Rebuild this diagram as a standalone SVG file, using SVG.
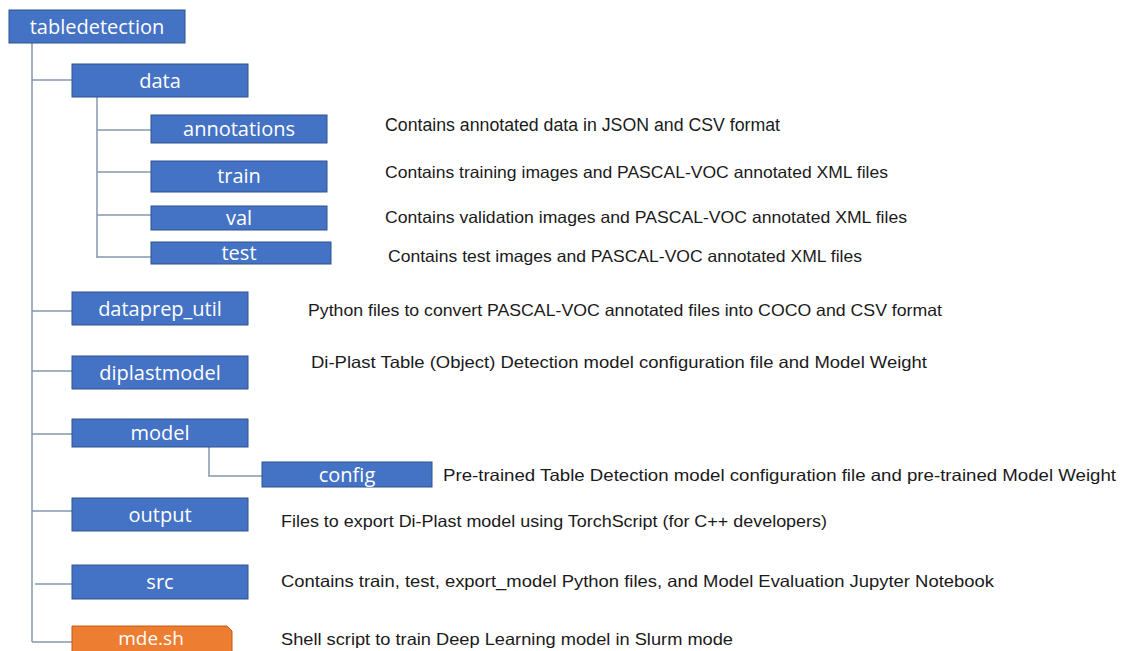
<svg xmlns="http://www.w3.org/2000/svg" width="1121" height="651" viewBox="0 0 1121 651">
<style>
.box{fill:#4472C4;stroke:#2F528F;stroke-width:1}
.orange{fill:#ED7D31;stroke:#C55A11;stroke-width:1}
.lbl{font-family:"Open Sans","Liberation Sans",sans-serif;font-size:20px;fill:#FFFFFF;text-anchor:middle}
.desc{font-family:"Liberation Sans",Arial,sans-serif;font-size:16.5px;fill:#1A1A1A}
.conn line,.conn path{stroke:#8497B0;stroke-width:1.5;fill:none}
</style>
<rect width="1121" height="651" fill="#FFFFFF"/>
<g class="conn" id="connectors">
<line x1="32" y1="43" x2="32" y2="642"/>
<line x1="32" y1="80" x2="72" y2="80"/>
<line x1="97" y1="97" x2="97" y2="258"/>
<line x1="97" y1="130" x2="151" y2="130"/>
<line x1="97" y1="172" x2="151" y2="172"/>
<line x1="97" y1="215" x2="151" y2="215"/>
<line x1="97" y1="257" x2="151" y2="257"/>
<line x1="32" y1="311" x2="72" y2="311"/>
<line x1="32" y1="371" x2="72" y2="371"/>
<line x1="32" y1="434" x2="72" y2="434"/>
<path d="M209,447 V476 H262"/>
<line x1="32" y1="511" x2="72" y2="511"/>
<line x1="35" y1="584" x2="72" y2="584"/>
<line x1="32" y1="642" x2="72" y2="642"/>
</g>
<g id="tabledetection"><rect class="box" x="9" y="10" width="176" height="33"/><text class="lbl" x="97" y="34">tabledetection</text></g>
<g id="data"><rect class="box" x="72" y="64" width="176" height="33"/><text class="lbl" x="160" y="88">data</text></g>
<g id="annotations"><rect class="box" x="151" y="115" width="176" height="28"/><text class="lbl" x="239" y="136">annotations</text>
<text class="desc" x="385" y="131" style="font-size:17.5px" textLength="395" lengthAdjust="spacingAndGlyphs">Contains annotated data in JSON and CSV format</text></g>
<g id="train"><rect class="box" x="151" y="161" width="176" height="31"/><text class="lbl" x="239" y="183">train</text>
<text class="desc" x="385" y="178" textLength="503" lengthAdjust="spacingAndGlyphs">Contains training images and PASCAL-VOC annotated XML files</text></g>
<g id="val"><rect class="box" x="151" y="206" width="176" height="24"/><text class="lbl" x="239" y="225">val</text>
<text class="desc" x="385" y="223" textLength="522" lengthAdjust="spacingAndGlyphs">Contains validation images and PASCAL-VOC annotated XML files</text></g>
<g id="test"><rect class="box" x="151" y="242" width="180" height="22"/><text class="lbl" x="239" y="260">test</text>
<text class="desc" x="388" y="262" textLength="474" lengthAdjust="spacingAndGlyphs">Contains test images and PASCAL-VOC annotated XML files</text></g>
<g id="dataprep_util"><rect class="box" x="72" y="292" width="176" height="33"/><text class="lbl" x="160" y="316">dataprep_util</text>
<text class="desc" x="308" y="316" textLength="634" lengthAdjust="spacingAndGlyphs">Python files to convert PASCAL-VOC annotated files into COCO and CSV format</text></g>
<g id="diplastmodel"><rect class="box" x="72" y="356" width="176" height="33"/><text class="lbl" x="160" y="380">diplastmodel</text>
<text class="desc" x="311" y="368" textLength="616" lengthAdjust="spacingAndGlyphs">Di-Plast Table (Object) Detection model configuration file and Model Weight</text></g>
<g id="model"><rect class="box" x="72" y="419" width="176" height="28"/><text class="lbl" x="160" y="440">model</text></g>
<g id="config"><rect class="box" x="262" y="462" width="170" height="25"/><text class="lbl" x="347" y="482">config</text>
<text class="desc" x="443" y="481" textLength="673" lengthAdjust="spacingAndGlyphs">Pre-trained Table Detection model configuration file and pre-trained Model Weight</text></g>
<g id="output"><rect class="box" x="72" y="498" width="176" height="33"/><text class="lbl" x="160" y="522">output</text>
<text class="desc" x="281" y="527" textLength="546" lengthAdjust="spacingAndGlyphs">Files to export Di-Plast model using TorchScript (for C++ developers)</text></g>
<g id="src"><rect class="box" x="72" y="565" width="176" height="34"/><text class="lbl" x="160" y="589">src</text>
<text class="desc" x="281" y="587" textLength="713" lengthAdjust="spacingAndGlyphs">Contains train, test, export_model  Python files, and Model Evaluation Jupyter Notebook</text></g>
<g id="mde.sh"><path class="orange" d="M72,626 H227 L232,631 V652 H72 Z"/><text class="lbl" x="151" y="645" style="font-size:19px">mde.sh</text>
<text class="desc" x="281" y="645" textLength="452" lengthAdjust="spacingAndGlyphs">Shell script to train Deep  Learning model in Slurm mode</text></g>
</svg>
